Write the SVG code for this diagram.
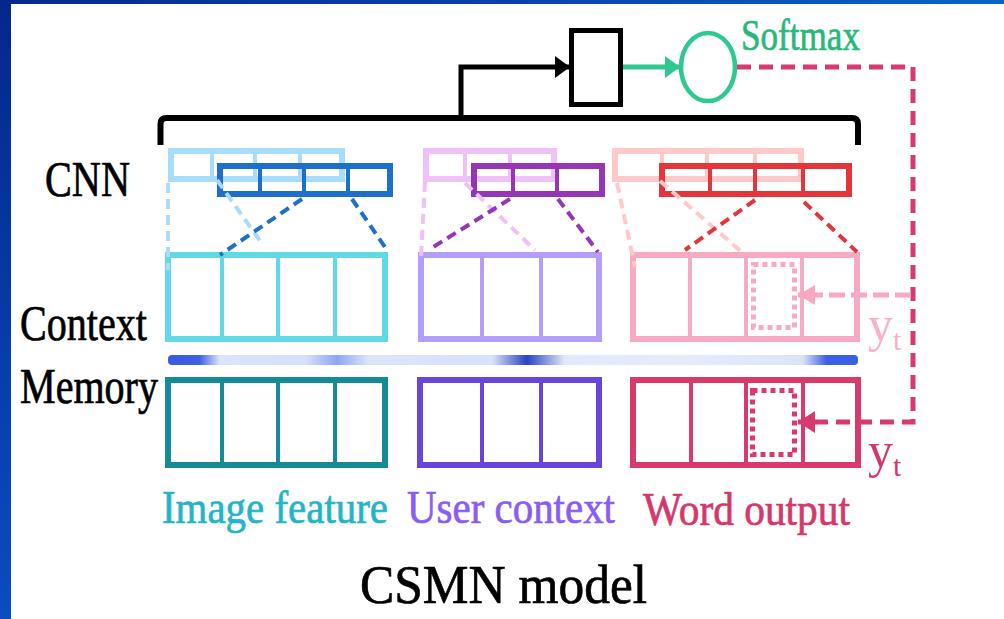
<svg xmlns="http://www.w3.org/2000/svg" width="1004" height="619" viewBox="0 0 1004 619">
<defs>
<linearGradient id="topg" x1="0" y1="0" x2="1" y2="0">
<stop offset="0" stop-color="#062a8e"/><stop offset="0.5" stop-color="#0a40b0"/><stop offset="1" stop-color="#0566c8"/>
</linearGradient>
<linearGradient id="leftg" x1="0" y1="0" x2="0" y2="1">
<stop offset="0" stop-color="#03288c"/><stop offset="1" stop-color="#0b4cc0"/>
</linearGradient>
<linearGradient id="barg" x1="168" y1="0" x2="858" y2="0" gradientUnits="userSpaceOnUse">
<stop offset="0" stop-color="#3a5be2"/>
<stop offset="0.045" stop-color="#3d5ee2"/>
<stop offset="0.075" stop-color="#dbe4fb"/>
<stop offset="0.2" stop-color="#d6e0fb"/>
<stop offset="0.245" stop-color="#8ea5f5"/>
<stop offset="0.29" stop-color="#dbe4fb"/>
<stop offset="0.47" stop-color="#d9e2fb"/>
<stop offset="0.52" stop-color="#2844c0"/>
<stop offset="0.575" stop-color="#e2e9fc"/>
<stop offset="0.75" stop-color="#e6ecfc"/>
<stop offset="0.92" stop-color="#dae3fb"/>
<stop offset="0.955" stop-color="#3a5ee6"/>
<stop offset="1" stop-color="#3a5ee6"/>
</linearGradient>
<marker id="ahBlack" markerUnits="userSpaceOnUse" markerWidth="16" markerHeight="22" refX="15" refY="11" orient="auto"><path d="M0,0 L15,11 L0,22 Z" fill="#000"/></marker>
<marker id="ahGreen" markerUnits="userSpaceOnUse" markerWidth="16" markerHeight="22" refX="15" refY="11" orient="auto"><path d="M0,0 L15,11 L0,22 Z" fill="#2ec98e"/></marker>
<marker id="ahRed" markerUnits="userSpaceOnUse" markerWidth="18" markerHeight="22" refX="17" refY="11" orient="auto"><path d="M0,0 L17,11 L0,22 Z" fill="#d63a6e"/></marker>
<marker id="ahPink" markerUnits="userSpaceOnUse" markerWidth="18" markerHeight="20" refX="17" refY="10" orient="auto"><path d="M0,0 L17,10 L0,20 Z" fill="#f9a8c2"/></marker>
</defs>
<style>
text{font-family:'Liberation Serif','DejaVu Serif',serif;stroke-width:0.7;}
.box{fill:none;stroke-width:6;}
.div{stroke-width:4;}
.cnn{fill:none;stroke-width:6;}
.dash{stroke-width:4;stroke-dasharray:10,6;fill:none;}
.dot{fill:none;stroke-width:5;stroke-dasharray:5,4;}
</style>
<rect width="1004" height="619" fill="#ffffff"/>
<rect x="0" y="0" width="1004" height="4" fill="url(#topg)"/>
<rect x="0" y="0" width="11" height="619" fill="url(#leftg)"/>

<g font-family="Liberation Serif, DejaVu Serif, serif">
<!-- Labels -->
<text x="45" y="196" font-size="50" fill="#000" stroke="#000" textLength="85" lengthAdjust="spacingAndGlyphs">CNN</text>
<text x="20" y="340" font-size="50" fill="#000" stroke="#000" textLength="127" lengthAdjust="spacingAndGlyphs">Context</text>
<text x="20" y="403" font-size="50" fill="#000" stroke="#000" textLength="138" lengthAdjust="spacingAndGlyphs">Memory</text>

<!-- Image feature node -->
<g id="image-feature">
<rect class="cnn" x="171" y="151" width="171" height="28" stroke="#a8dcfc"/>
<path class="div" d="M212,151V179M255,151V179M300,151V179" stroke="#a8dcfc"/>
<rect class="cnn" x="220" y="166" width="170" height="28" stroke="#1e6fc8"/>
<path class="div" d="M260,166V194M304,166V194M348,166V194" stroke="#1e6fc8"/>
<rect class="box" x="168" y="255" width="217" height="84" stroke="#62d9e6"/>
<path class="div" d="M222,255V339M278,255V339M335,255V339" stroke="#62d9e6"/>
<rect class="box" x="168" y="380" width="217" height="85" stroke="#148b97"/>
<path class="div" d="M222,380V465M278,380V465M335,380V465" stroke="#148b97"/>
<text x="162" y="523" font-size="47" fill="#22b5c9" stroke="#22b5c9" textLength="226" lengthAdjust="spacingAndGlyphs">Image feature</text>
</g>

<!-- User context node -->
<g id="user-context">
<rect class="cnn" x="426" y="151" width="128" height="28" stroke="#eec2f9"/>
<path class="div" d="M465,151V179M510,151V179" stroke="#eec2f9"/>
<rect class="cnn" x="474" y="166" width="128" height="28" stroke="#9436b5"/>
<path class="div" d="M513,166V194M557,166V194" stroke="#9436b5"/>
<rect class="box" x="421" y="255" width="178" height="84" stroke="#b59efb"/>
<path class="div" d="M482,255V339M541,255V339" stroke="#b59efb"/>
<rect class="box" x="420" y="380" width="179" height="85" stroke="#6a45db"/>
<path class="div" d="M482,380V465M541,380V465" stroke="#6a45db"/>
<text x="407" y="523" font-size="47" fill="#8a5cf4" stroke="#8a5cf4" textLength="208" lengthAdjust="spacingAndGlyphs">User context</text>
</g>

<!-- Word output node -->
<g id="word-output">
<rect class="cnn" x="615" y="151" width="186" height="28" stroke="#ffc9c9"/>
<path class="div" d="M662,151V179M707,151V179M755,151V179" stroke="#ffc9c9"/>
<rect class="cnn" x="662" y="166" width="187" height="28" stroke="#e2363a"/>
<path class="div" d="M710,166V194M755,166V194M803,166V194" stroke="#e2363a"/>
<rect class="box" x="633" y="255" width="224" height="84" stroke="#f8aac2"/>
<path class="div" d="M690,255V339M746,255V339M802,255V339" stroke="#f8aac2"/>
<rect class="dot" x="753.5" y="264.5" width="41" height="63" stroke="#f8aac2"/>
<rect class="box" x="633" y="380" width="225" height="85" stroke="#d93a6b"/>
<path class="div" d="M691,380V465M746,380V465M803,380V465" stroke="#d93a6b"/>
<rect class="dot" x="752.5" y="390.5" width="42" height="64" stroke="#d93a6b"/>
<text x="643" y="525" font-size="47" fill="#d6376b" stroke="#d6376b" textLength="207" lengthAdjust="spacingAndGlyphs">Word output</text>
</g>

<!-- memory bar -->
<g id="memory-bar">
<rect x="168" y="355" width="690" height="10" rx="4" fill="url(#barg)"/>
</g>

<!-- top nodes -->
<g id="combine-box">
<rect x="571.5" y="30.5" width="49" height="74" fill="none" stroke="#000" stroke-width="5"/>
</g>
<g id="softmax">
<ellipse cx="708" cy="67" rx="27" ry="34" fill="none" stroke="#2ec98e" stroke-width="4.5"/>
<text x="741" y="50" font-size="44" fill="#27b87a" stroke="#27b87a" textLength="119" lengthAdjust="spacingAndGlyphs">Softmax</text>
</g>

<!-- connectors -->
<g id="connectors">
<path d="M160.5,145V124Q160.5,118 166.5,118H852Q858,118 858,124V145" fill="none" stroke="#000" stroke-width="6"/>
<path d="M461,118V67H570" fill="none" stroke="#000" stroke-width="5" marker-end="url(#ahBlack)"/>
<path d="M623,67H680" fill="none" stroke="#2ec98e" stroke-width="5" marker-end="url(#ahGreen)"/>

<path class="dash" d="M168,183L168,270M217,180L263,245" stroke="#a8dcfc"/>
<path class="dash" d="M302,199L220,255M352,199L387,250" stroke="#1e6fc8"/>
<path class="dash" d="M425,182L421,257M465,183L535,250" stroke="#eec2f9"/>
<path class="dash" d="M510,199L430,249M558,199L598,252" stroke="#9436b5"/>
<path class="dash" d="M617,183L635,267M660,181L743,253" stroke="#ffc9c9"/>
<path class="dash" d="M755,200L685,250M804,202L857,252" stroke="#e2363a"/>

<path d="M737,67H913V422H798" fill="none" stroke="#d63a6e" stroke-width="5" stroke-dasharray="14,8" marker-end="url(#ahRed)"/>
<path d="M911,295H798" fill="none" stroke="#f9a8c2" stroke-width="5" stroke-dasharray="16,6" marker-end="url(#ahPink)"/>
</g>

<text x="868" y="341" font-size="50" fill="#f9b0c8">y<tspan font-size="30" dy="9">t</tspan></text>
<text x="868" y="467" font-size="50" fill="#d6376b">y<tspan font-size="30" dy="9">t</tspan></text>

<text x="360" y="603" font-size="55" fill="#000" stroke="#000" textLength="287" lengthAdjust="spacingAndGlyphs">CSMN model</text>
</g>
</svg>
